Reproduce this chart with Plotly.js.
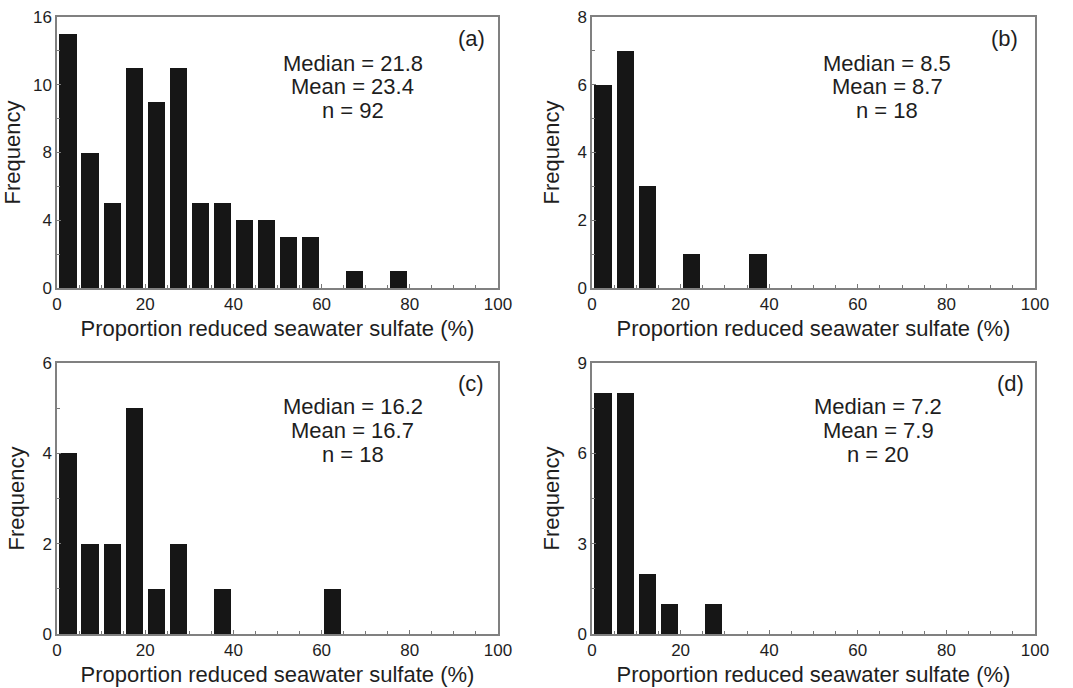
<!DOCTYPE html>
<html>
<head>
<meta charset="utf-8">
<script src="https://cdn.plot.ly/plotly-3.0.1.min.js"></script>
<style>html,body{margin:0;padding:0;background:#fff;}#chart{width:1073px;height:688px;}</style>
</head>
<body>
<div id="chart"></div>
<script>
// Bin lower edges (%) – bins are 5 % wide
const binStarts = [0, 5, 10, 15, 20, 25, 30, 35, 40, 45, 50, 55, 60, 65, 70, 75];
const countsA = [15, 8, 5, 13, 11, 13, 5, 5, 4, 4, 3, 3, 0, 1, 0, 1];
const countsB = [6, 7, 3, 0, 1, 0, 0, 1];
const countsC = [4, 2, 2, 5, 1, 2, 0, 1, 0, 0, 0, 0, 1];
const countsD = [8, 8, 2, 1, 0, 1];
const panelLabels = ["(a)", "(b)", "(c)", "(d)"];
const medians = ["21.8", "8.5", "16.2", "7.2"];
const means = ["23.4", "8.7", "16.7", "7.9"];
const ns = ["92", "18", "18", "20"];
const yMax = [16, 8, 6, 9];
// y tick values and labels as printed in each panel
const yTickVals = [[0, 4, 8, 12, 16], [0, 2, 4, 6, 8], [0, 2, 4, 6], [0, 3, 6, 9]];
const yTickText = [["0", "4", "8", "10", "16"], ["0", "2", "4", "6", "8"], ["0", "2", "4", "6"], ["0", "3", "6", "9"]];
const yMinor = [2, 1, 1, 1.5];
const xTickVals = [0, 20, 40, 60, 80, 100];
const xTitle = "Proportion reduced seawater sulfate (%)";
const yTitle = "Frequency";

const FONT = "Liberation Sans, Arial, sans-serif";
const TXT = "#1e1e1e";
const counts = [countsA, countsB, countsC, countsD];

const traces = counts.map((c, i) => ({
  type: "bar",
  x: binStarts.slice(0, c.length),
  y: c,
  offset: 0.55,
  width: 3.9,
  marker: {color: "#161616", line: {width: 0}},
  xaxis: i === 0 ? "x" : "x" + (i + 1),
  yaxis: i === 0 ? "y" : "y" + (i + 1),
  hoverinfo: "x+y",
  showlegend: false
}));

const xDomL = [57 / 1073, 498 / 1073];
const xDomR = [592 / 1073, 1035 / 1073];
const yDomT = [1 - 288 / 688, 1 - 17 / 688];
const yDomB = [1 - 634 / 688, 1 - 363 / 688];
const xDoms = [xDomL, xDomR, xDomL, xDomR];
const yDoms = [yDomT, yDomT, yDomB, yDomB];

const layout = {
  width: 1073, height: 688,
  margin: {l: 0, r: 0, t: 0, b: 0},
  paper_bgcolor: "#fff", plot_bgcolor: "#fff",
  font: {family: FONT, color: TXT, size: 16},
  bargap: 0,
  annotations: []
};

for (let i = 0; i < 4; i++) {
  const s = i === 0 ? "" : String(i + 1);
  layout["xaxis" + s] = {
    domain: xDoms[i], anchor: "y" + s, range: [0, 100],
    tickmode: "array", tickvals: xTickVals,
    ticks: "inside", ticklen: 4, tickcolor: "#777", tickwidth: 1,
    minor: {dtick: 5, ticks: "inside", ticklen: 3, tickcolor: "#777"},
    showline: true, linecolor: "#808080", linewidth: 1.5, mirror: true,
    showgrid: false, zeroline: false,
    tickfont: {size: 17, family: FONT, color: TXT},
    title: {text: xTitle, font: {size: 22, family: FONT, color: TXT}, standoff: 7},
    fixedrange: true
  };
  layout["yaxis" + s] = {
    domain: yDoms[i], anchor: "x" + s, range: [0, yMax[i]],
    tickmode: "array", tickvals: yTickVals[i], ticktext: yTickText[i],
    ticks: "inside", ticklen: 4, tickcolor: "#777", tickwidth: 1,
    minor: {tickmode: "linear", tick0: 0, dtick: yMinor[i], ticks: "inside", ticklen: 3, tickcolor: "#777"},
    showline: true, linecolor: "#808080", linewidth: 1.5, mirror: true,
    showgrid: false, zeroline: false,
    tickfont: {size: 17, family: FONT, color: TXT},
    title: {text: yTitle, font: {size: 22, family: FONT, color: TXT}, standoff: 12},
    fixedrange: true
  };
}

// positions in axis-domain fractions
const labelPos = [[0.939, 0.922], [0.932, 0.922], [0.939, 0.926], [0.944, 0.926]];
const statX = [0.671, 0.666, 0.671, 0.646];
const statY = [[0.830, 0.742, 0.654], [0.830, 0.742, 0.654], [0.838, 0.750, 0.662], [0.838, 0.750, 0.662]];
for (let i = 0; i < 4; i++) {
  const s = i === 0 ? "" : String(i + 1);
  layout.annotations.push({
    xref: "x" + s + " domain", yref: "y" + s + " domain",
    x: labelPos[i][0], y: labelPos[i][1], xanchor: "center", yanchor: "middle",
    text: panelLabels[i], showarrow: false,
    font: {size: 22, family: FONT, color: TXT}
  });
  const lines = ["Median = " + medians[i], "Mean = " + means[i], "n = " + ns[i]];
  lines.forEach((t, k) => {
    layout.annotations.push({
      xref: "x" + s + " domain", yref: "y" + s + " domain",
      x: statX[i], y: statY[i][k], xanchor: "center", yanchor: "middle",
      text: t, showarrow: false,
      font: {size: 22, family: FONT, color: TXT}
    });
  });
}

Plotly.newPlot("chart", traces, layout, {displayModeBar: false});
</script>
</body>
</html>
